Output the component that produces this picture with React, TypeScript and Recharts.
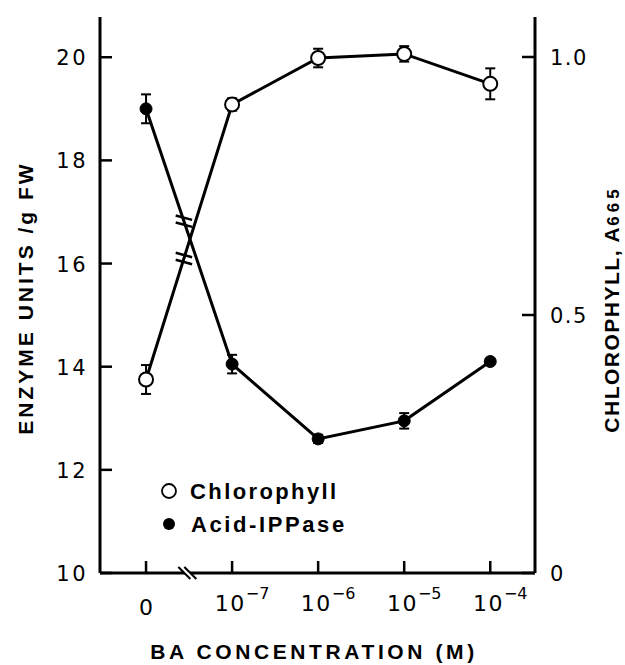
import React from 'react';
import { LineChart, Line, XAxis, YAxis, ErrorBar, ReferenceDot, Legend } from 'recharts';

// ---- data ----
const concentrationIndex = [0, 1, 2, 3, 4];
const tickBase = ['0', '10', '10', '10', '10'];
const tickExp = ['', '−7', '−6', '−5', '−4'];
const acidIPPase = [19.0, 14.05, 12.6, 12.95, 14.1];
const acidIPPaseErr = [0.28, 0.18, 0.08, 0.15, null];
const chlorophyll = [0.375, 0.908, 0.998, 1.006, 0.948];
const chlorophyllErr = [0.028, 0.012, 0.018, 0.015, 0.03];
const enzymeTicks = [10, 12, 14, 16, 18, 20];
const chlorophyllTicks = [0, 0.5, 1.0];
const seriesNames = ['Chlorophyll', 'Acid-IPPase'];
const lineBreakFraction = 0.44; // position of the "//" marks along first segment
const axisBreakX = 0.48;

const data = concentrationIndex.map((x, i) => ({
  x,
  acid: acidIPPase[i],
  acidErr: acidIPPaseErr[i],
  chl: chlorophyll[i],
  chlErr: chlorophyllErr[i],
}));

const acidBreak = {
  x: concentrationIndex[0] + lineBreakFraction * (concentrationIndex[1] - concentrationIndex[0]),
  y: acidIPPase[0] + lineBreakFraction * (acidIPPase[1] - acidIPPase[0]),
};
const chlBreak = {
  x: concentrationIndex[0] + lineBreakFraction * (concentrationIndex[1] - concentrationIndex[0]),
  y: chlorophyll[0] + lineBreakFraction * (chlorophyll[1] - chlorophyll[0]),
};

const FONT = '"Liberation Sans", Arial, Helvetica, sans-serif';
const TICK_FONT = '"DejaVu Sans", "Liberation Sans", sans-serif';

const LeftTick = (props: any) => {
  const { x, y, payload } = props;
  return (
    <g>
      <line x1={x} y1={y} x2={x + 12} y2={y} stroke="#000" strokeWidth={2.5} />
      <text x={x - 12} y={y + 8} textAnchor="end" fontSize={21} fontFamily={TICK_FONT} letterSpacing={2.5} fill="#000">
        {payload.value}
      </text>
    </g>
  );
};

const RightTick = (props: any) => {
  const { x, y, payload } = props;
  const v = payload.value;
  const label = v === 0 ? '0' : v.toFixed(1);
  return (
    <g>
      <line x1={x} y1={y} x2={x - 13} y2={y} stroke="#000" strokeWidth={2.5} />
      <text x={x + 15} y={y + 8} textAnchor="start" fontSize={21} fontFamily={TICK_FONT} letterSpacing={1.5} fill="#000">
        {label}
      </text>
    </g>
  );
};

const BottomTick = (props: any) => {
  const { x, y, payload } = props;
  const i = concentrationIndex.indexOf(payload.value);
  const base = tickBase[i];
  const exp = tickExp[i];
  return (
    <g>
      <line x1={x} y1={y} x2={x} y2={y - 12} stroke="#000" strokeWidth={2.5} />
      {exp ? (
        <text x={x + 10} y={y + 38} textAnchor="middle" fontSize={22} fontFamily={TICK_FONT} letterSpacing={1.5} fill="#000">
          {base}
          <tspan dy={-12} fontSize={16} letterSpacing={0}>{exp}</tspan>
        </text>
      ) : (
        <text x={x} y={y + 42} textAnchor="middle" fontSize={22} fontFamily={TICK_FONT} fill="#000">
          {base}
        </text>
      )}
    </g>
  );
};

const OpenDot = (props: any) => {
  const { cx, cy, index } = props;
  if (cx == null || cy == null) return <g key={`o${index}`} />;
  return <circle key={`o${index}`} cx={cx} cy={cy} r={7} fill="#fff" stroke="#000" strokeWidth={2} />;
};

const FilledDot = (props: any) => {
  const { cx, cy, index } = props;
  if (cx == null || cy == null) return <g key={`f${index}`} />;
  return <circle key={`f${index}`} cx={cx} cy={cy} r={6} fill="#000" stroke="#000" strokeWidth={1} />;
};

const LineBreakMark = (props: any) => {
  const { cx, cy } = props;
  const a = (15 * Math.PI) / 180;
  const L = 8.5;
  const g = 3.5;
  const dx = L * Math.cos(a);
  const dy = L * Math.sin(a);
  return (
    <g>
      <line x1={cx - dx} y1={cy - g - dy} x2={cx + dx} y2={cy - g + dy} stroke="#000" strokeWidth={2.5} />
      <line x1={cx - dx} y1={cy + g - dy} x2={cx + dx} y2={cy + g + dy} stroke="#000" strokeWidth={2.5} />
    </g>
  );
};

const AxisBreakMark = (props: any) => {
  const { cx, cy } = props;
  return (
    <g>
      <polygon points={`${cx - 9},${cy - 6} ${cx - 3},${cy - 6} ${cx + 9},${cy + 6} ${cx + 3},${cy + 6}`} fill="#fff" />
      <line x1={cx - 9} y1={cy - 6} x2={cx + 3} y2={cy + 6} stroke="#000" strokeWidth={2} />
      <line x1={cx - 3} y1={cy - 6} x2={cx + 9} y2={cy + 6} stroke="#000" strokeWidth={2} />
    </g>
  );
};

const LegendBox = () => (
  <svg width={230} height={70} style={{ display: 'block' }}>
    <circle cx={11} cy={17} r={7} fill="#fff" stroke="#000" strokeWidth={1.8} />
    <text x={32} y={25} fontSize={22} fontWeight="bold" fontFamily={FONT} letterSpacing={2.4} fill="#000">
      {seriesNames[0]}
    </text>
    <circle cx={11} cy={50} r={6} fill="#000" />
    <text x={33} y={58} fontSize={22} fontWeight="bold" fontFamily={FONT} letterSpacing={2.6} fill="#000">
      {seriesNames[1]}
    </text>
  </svg>
);

const LeftTitle = () => (
  <text
    x={33}
    y={298}
    transform="rotate(-90, 33, 298)"
    textAnchor="middle"
    fontSize={21}
    fontWeight="bold"
    fontFamily={FONT}
    letterSpacing={3}
    fill="#000"
  >
    ENZYME  UNITS /g  FW
  </text>
);

const RightTitle = () => (
  <text
    x={619}
    y={309}
    transform="rotate(-90, 619, 309)"
    textAnchor="middle"
    fontSize={21}
    fontWeight="bold"
    fontFamily={FONT}
    letterSpacing={1.5}
    fill="#000"
  >
    CHLOROPHYLL,    A
    <tspan fontSize={17} letterSpacing={4}>665</tspan>
  </text>
);

const BottomTitle = () => (
  <text x={314} y={659} textAnchor="middle" fontSize={21} fontWeight="bold" fontFamily={FONT} letterSpacing={3.6} fill="#000">
    BA CONCENTRATION  (M)
  </text>
);

const xDomain: [number, number] = [-0.535, 4.52];

export default function App() {
  return (
    <div style={{ position: 'absolute', left: 0, top: 0, background: '#fff' }}>
      <LineChart width={625} height={665} data={data} margin={{ top: 17, right: 0, bottom: 0, left: 0 }}>
        <XAxis
          xAxisId="b"
          type="number"
          dataKey="x"
          domain={xDomain}
          ticks={concentrationIndex}
          allowDataOverflow
          height={92}
          tickSize={0}
          tickMargin={0}
          tickLine={false}
          axisLine={{ stroke: '#000', strokeWidth: 3 }}
          tick={<BottomTick />}
          label={{ content: () => <BottomTitle /> }}
        />
        <XAxis
          xAxisId="t"
          orientation="top"
          type="number"
          dataKey="x"
          domain={xDomain}
          allowDataOverflow
          height={0}
          tick={false}
          tickLine={false}
          axisLine={{ stroke: '#000', strokeWidth: 3 }}
        />
        <YAxis
          yAxisId="l"
          type="number"
          domain={[10, 20.78]}
          ticks={enzymeTicks}
          allowDataOverflow
          width={100}
          tickSize={0}
          tickMargin={0}
          tickLine={false}
          axisLine={{ stroke: '#000', strokeWidth: 3 }}
          tick={<LeftTick />}
          label={{ content: () => <LeftTitle /> }}
        />
        <YAxis
          yAxisId="r"
          orientation="right"
          type="number"
          domain={[0, 1.0775]}
          ticks={chlorophyllTicks}
          allowDataOverflow
          width={90}
          tickSize={0}
          tickMargin={0}
          tickLine={false}
          axisLine={{ stroke: '#000', strokeWidth: 3 }}
          tick={<RightTick />}
          label={{ content: () => <RightTitle /> }}
        />
        <Legend
          layout="vertical"
          align="center"
          verticalAlign="middle"
          wrapperStyle={{ left: 158, top: 474, width: 230, height: 70 }}
          content={() => <LegendBox />}
        />
        <Line
          xAxisId="b"
          yAxisId="l"
          dataKey="acid"
          name={seriesNames[1]}
          stroke="#000"
          strokeWidth={3}
          dot={FilledDot}
          activeDot={false}
          isAnimationActive={false}
        >
          <ErrorBar dataKey="acidErr" width={5} strokeWidth={2} stroke="#000" direction="y" isAnimationActive={false} />
        </Line>
        <Line
          xAxisId="b"
          yAxisId="r"
          dataKey="chl"
          name={seriesNames[0]}
          stroke="#000"
          strokeWidth={3}
          dot={OpenDot}
          activeDot={false}
          isAnimationActive={false}
        >
          <ErrorBar dataKey="chlErr" width={5} strokeWidth={2} stroke="#000" direction="y" isAnimationActive={false} />
        </Line>
        <ReferenceDot xAxisId="b" yAxisId="l" x={acidBreak.x} y={acidBreak.y} ifOverflow="visible" shape={LineBreakMark} />
        <ReferenceDot xAxisId="b" yAxisId="r" x={chlBreak.x} y={chlBreak.y} ifOverflow="visible" shape={LineBreakMark} />
        <ReferenceDot xAxisId="b" yAxisId="l" x={axisBreakX} y={10} ifOverflow="visible" shape={AxisBreakMark} />
      </LineChart>
    </div>
  );
}
